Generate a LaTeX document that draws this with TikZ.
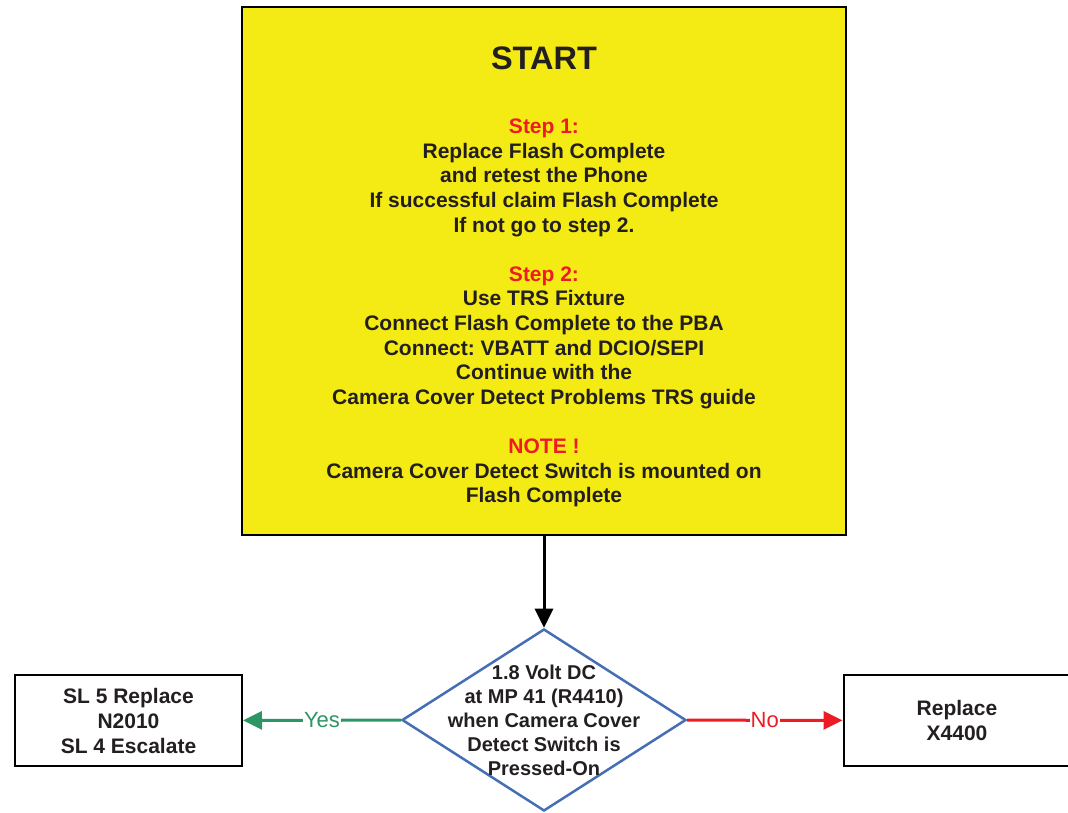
\documentclass[tikz,border=0pt]{standalone}
\usepackage{fontspec}
\setmainfont{Liberation Sans}
\usetikzlibrary{shapes.geometric,arrows.meta}
\frenchspacing
\definecolor{startyellow}{RGB}{245,235,20}
\definecolor{darktext}{RGB}{35,31,32}
\definecolor{stepred}{RGB}{237,28,36}
\definecolor{yesgreen}{RGB}{46,150,100}
\definecolor{decblue}{RGB}{70,110,180}
\begin{document}
\begin{tikzpicture}[x=1pt,y=-1pt,
  txt/.style={align=center,text=darktext,font=\bfseries\fontsize{21}{24.6}\selectfont},
  endbox/.style={draw,line width=2pt,minimum width=227pt,minimum height=91pt,inner sep=0pt},
  decision/.style={diamond,draw=decblue,line width=2.5pt,minimum width=284pt,minimum height=182pt,inner sep=0pt},
  flow/.style={line width=3pt,-{Triangle[length=19pt,width=18pt]}},
  lbl/.style={fill=white,inner sep=1pt,font=\fontsize{22}{24}\selectfont}]
  \useasboundingbox (0,0) rectangle (1068,813);
  \node[draw,fill=startyellow,line width=2pt,minimum width=604pt,minimum height=528pt] (start) at (544,271) {};
  \node[txt,font=\bfseries\fontsize{32.5}{36}\selectfont] (title) at (544,58) {START};
  \node[txt] (steps) at (544,313) {\textcolor{stepred}{Step 1:}\\
    Replace Flash Complete\\
    and retest the Phone\\
    If successful claim Flash Complete\\
    If not go to step 2.\\[24.6pt]
    \textcolor{stepred}{Step 2:}\\
    Use TRS Fixture\\
    Connect Flash Complete to the PBA\\
    Connect: VBATT and DCIO/SEPI\\
    Continue with the\\
    Camera Cover Detect Problems TRS guide\\[24.6pt]
    \textcolor{stepred}{NOTE !}\\
    Camera Cover Detect Switch is mounted on\\
    Flash Complete};

  \node[decision] (dec) at (544,720) {};
  \node[txt,font=\bfseries\fontsize{20}{24}\selectfont] (dectext) at (dec.center) {1.8 Volt DC\\at MP 41 (R4410)\\when Camera Cover\\Detect Switch is\\Pressed-On};
  \node[endbox,txt,font=\bfseries\fontsize{21}{25}\selectfont] (slbox) at (128.5,720.5) {SL 5 Replace\\N2010\\SL 4 Escalate};
  \node[endbox,txt,font=\bfseries\fontsize{21}{25}\selectfont] (xbox) at (957,720.5) {Replace\\X4400};

  \draw[flow] (start) -- (dec);
  \draw[flow,yesgreen] (dec) -- node[lbl,text=yesgreen] {Yes} (slbox);
  \draw[flow,stepred] (dec) -- node[lbl,text=stepred] {No} (xbox);
\end{tikzpicture}
\end{document}
